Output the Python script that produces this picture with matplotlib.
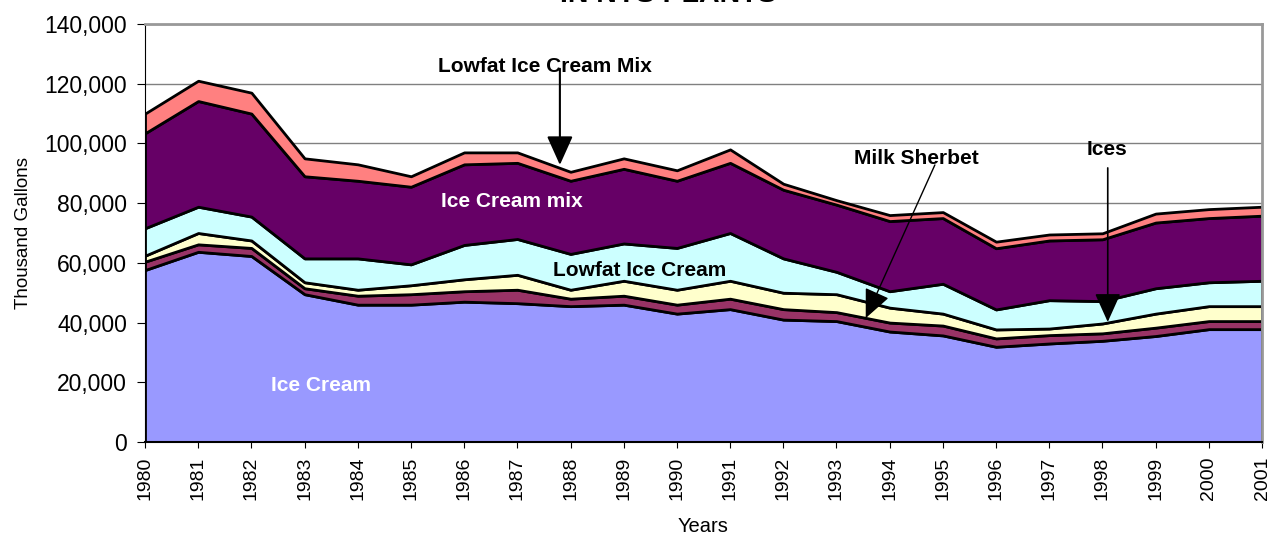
import numpy as np
import matplotlib
matplotlib.use("Agg")
from matplotlib import pyplot as plt
from matplotlib.ticker import FuncFormatter

plt.rcParams['font.family'] = ['Liberation Sans', 'DejaVu Sans']

years = list(range(1980, 2002))

# cumulative tops, thousand gallons
top_ice_cream = [57600, 63700, 62300, 49500, 46000, 46000, 47000, 46500, 45500, 46000, 43000,
                 44500, 41000, 40500, 37000, 35700, 31900, 33000, 33900, 35500, 37800, 37800]
top_sherbet = [60400, 66200, 65000, 51500, 49000, 49500, 50500, 51000, 48000, 49000, 46000,
               48000, 44500, 43500, 40000, 39000, 34700, 35800, 36400, 38300, 40500, 40500]
top_ices = [62400, 70000, 67500, 53500, 51000, 52500, 54500, 56000, 51000, 54000, 51000,
            54000, 50000, 49500, 45000, 43000, 37700, 38000, 39700, 43000, 45500, 45500]
top_lowfat = [71600, 78800, 75500, 61500, 61500, 59500, 66000, 68000, 63000, 66500, 65000,
              70000, 61500, 57000, 50500, 53000, 44400, 47500, 47200, 51500, 53500, 54000]
top_mix = [103400, 114200, 110000, 89000, 87500, 85500, 93000, 93500, 87500, 91500, 87500,
           93500, 84500, 79500, 74000, 75000, 64900, 67500, 67900, 73500, 75000, 75800]
top_lowfat_mix = [110000, 121000, 117000, 95000, 93000, 89000, 97000, 97000, 90500, 95000, 91000,
                  98000, 86500, 81000, 76000, 77000, 67100, 69500, 69900, 76500, 78000, 78800]

tops = [top_ice_cream, top_sherbet, top_ices, top_lowfat, top_mix, top_lowfat_mix]
series = [np.array(tops[0])] + [np.array(tops[i]) - np.array(tops[i - 1]) for i in range(1, 6)]
colors = ['#9999FF', '#993366', '#FFFFCC', '#CCFFFF', '#660066', '#FF8080']

fig = plt.figure(figsize=(12.72, 5.35), dpi=100)
ax = fig.add_axes([145 / 1272, 1 - 442 / 535, (1262 - 145) / 1272, (442 - 24) / 535])

ax.stackplot(years, *series, colors=colors, edgecolor='black', linewidth=2.0, zorder=2)

ax.set_xlim(1980, 2001)
ax.set_ylim(0, 140000)
ax.set_yticks(range(0, 140001, 20000))
ax.yaxis.set_major_formatter(FuncFormatter(lambda v, p: f'{int(v):,}'))
ax.set_xticks(years)
ax.set_xticklabels([str(y) for y in years], rotation=90, fontsize=14)
ax.tick_params(axis='y', labelsize=16.5, direction='out', length=6, pad=7)
ax.tick_params(axis='x', direction='out', length=4.5, pad=6)
ax.grid(axis='y', color='#808080', linewidth=1, zorder=0)
ax.set_axisbelow(True)
for s in ['top', 'right']:
    ax.spines[s].set_color('#999999')
    ax.spines[s].set_linewidth(2)
ax.spines['left'].set_color('black')
ax.spines['bottom'].set_color('black')
ax.spines['bottom'].set_linewidth(1.5)

ax.set_xlabel('Years', fontsize=14.5, labelpad=12)
ax.set_ylabel('Thousand Gallons', fontsize=13.5, labelpad=9)

bold = dict(fontsize=15, fontweight='bold', ha='center', va='center')
ax.text(1986.9, 80400, 'Ice Cream mix', color='white', **bold)
ax.text(1983.3, 19000, 'Ice Cream', color='white', **bold)
ax.text(1989.3, 57600, 'Lowfat Ice Cream', color='black', **bold)
ax.text(1987.52, 125600, 'Lowfat Ice Cream Mix', color='black', **bold)
ax.text(1994.51, 95100, 'Milk Sherbet', color='black', **bold)
ax.text(1998.09, 97800, 'Ices', color='black', **bold)

head = '-|>,head_length=1.0,head_width=0.45'
arrows = [((1987.80, 125000), (1987.80, 92800), 1.5),
          ((1994.85, 92800), (1993.55, 41500), 1.0),
          ((1998.10, 91800), (1998.10, 40200), 1.2)]
for start, tip, lw in arrows:
    ax.annotate('', xy=tip, xytext=start,
                arrowprops=dict(arrowstyle=head, color='black', lw=lw, mutation_scale=18,
                                shrinkA=0, shrinkB=0))

fig.text(668 / 1272, 1 - 2.5 / 535, 'IN NYS PLANTS', ha='center', va='baseline',
         fontsize=20.5, fontweight='bold')

fig.savefig('out.png', dpi=100)
